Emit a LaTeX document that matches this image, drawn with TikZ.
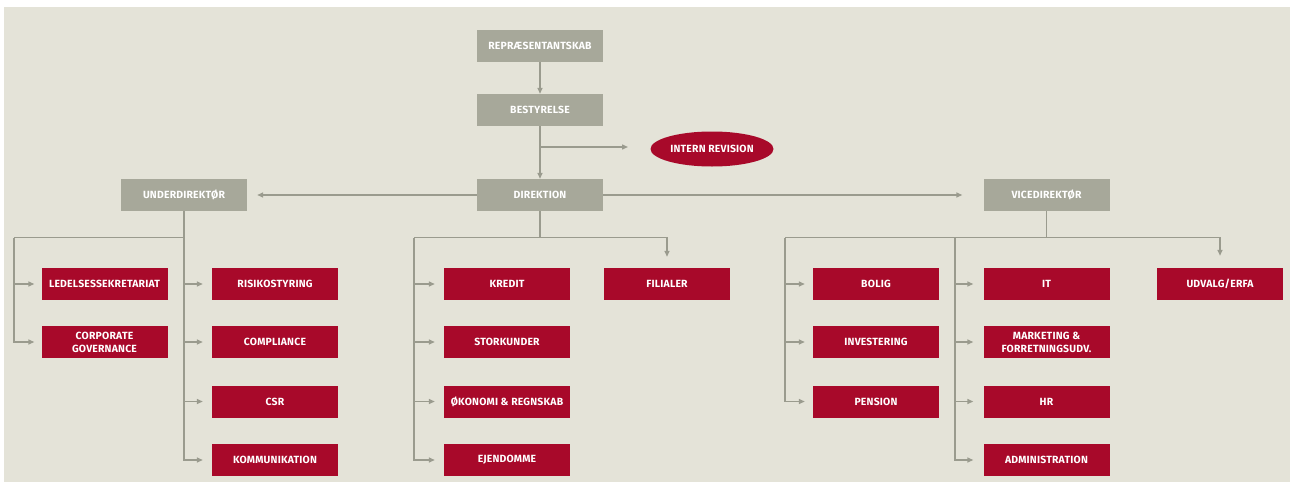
\documentclass[tikz,border=0pt]{standalone}
\usepackage{fontspec}
\setsansfont{Fira Sans}
\usetikzlibrary{arrows.meta,shapes.geometric}
\definecolor{paper}{HTML}{E4E3D8}
\definecolor{boardgrey}{HTML}{A7A89A}
\definecolor{unitred}{HTML}{A8092A}
\definecolor{wire}{HTML}{9A9B8E}
\begin{document}
\begin{tikzpicture}[x=1pt,y=-1pt,
  label/.style={font=\sffamily\bfseries\fontsize{10.4}{13}\selectfont\addfontfeatures{LetterSpace=2}, text=white, align=center},
  board/.style={label, fill=boardgrey, minimum width=126pt, minimum height=32pt, inner sep=0pt},
  unit/.style={label, fill=unitred, minimum width=126pt, minimum height=32pt, inner sep=0pt},
  oval/.style={label, ellipse, fill=unitred, minimum width=123pt, minimum height=35pt, inner sep=0pt},
  link/.style={draw=wire, line width=1.4pt},
  feed/.style={link, -{Triangle[length=6pt,width=5pt]}}
]
\useasboundingbox (0,0) rectangle (1290,482);
\fill[white] (0,0) rectangle (1290,482);
\fill[paper] (4,7) rectangle (1290,482);

% top of the organisation
\node[board] (repr) at (540,46) {REPRÆSENTANTSKAB};
\node[board] (best) at (540,110) {BESTYRELSE};
\node[oval]  (intern) at (712,149) {INTERN REVISION};
\node[board] (dir) at (540,195) {DIREKTION};
\node[board] (under) at (184,195) {UNDERDIREKTØR};
\node[board] (vice) at (1046.5,195) {VICEDIREKTØR};

% units under the underdirektør
\node[unit] (ledel) at (104.5,284) {LEDELSESSEKRETARIAT};
\node[unit] (corp)  at (104.5,342) {CORPORATE\\GOVERNANCE};
\node[unit] (risk)  at (275,284) {RISIKOSTYRING};
\node[unit] (compl) at (275,342) {COMPLIANCE};
\node[unit] (csr)   at (275,401.5) {CSR};
\node[unit] (komm)  at (275,460) {KOMMUNIKATION};

% units under the direktion
\node[unit] (kredit) at (507,284) {KREDIT};
\node[unit] (stork)  at (507,342) {STORKUNDER};
\node[unit] (okon)   at (507,401.5) {ØKONOMI \& REGNSKAB};
\node[unit] (ejend)  at (507,460) {EJENDOMME};
\node[unit] (filial) at (667,284) {FILIALER};

% units under the vicedirektør
\node[unit] (bolig)   at (876,284) {BOLIG};
\node[unit] (invest)  at (876,342) {INVESTERING};
\node[unit] (pension) at (876,401.5) {PENSION};
\node[unit] (it)      at (1046.5,284) {IT};
\node[unit] (mark)    at (1046.5,342) {MARKETING \&\\FORRETNINGSUDV.};
\node[unit] (hr)      at (1046.5,401.5) {HR};
\node[unit] (admin)   at (1046.5,460) {ADMINISTRATION};
\node[unit] (udv)     at (1220,284) {UDVALG/ERFA};

% main chain
\draw[feed] (repr) -- (best);
\draw[feed] (best) -- (dir);
\coordinate (rev) at (628,147);
\draw[feed] (best.south |- rev) -- (rev);
\draw[feed] (dir.west) -- ([xshift=10pt]under.east);
\draw[feed] (dir.east) -- ([xshift=-21pt]vice.west);

% underdirektør tree
\coordinate (ul) at (14,237.7);
\draw[link] (under.south |- ul) -- (ul);
\draw[feed] (ul) |- ([xshift=-7pt]corp.west);
\draw[feed] (ul |- ledel) -- ([xshift=-7pt]ledel.west);
\draw[feed] (under.south) |- ([xshift=-9pt]komm.west);
\draw[feed] (under.south |- risk) -- ([xshift=-9pt]risk.west);
\draw[feed] (under.south |- compl) -- ([xshift=-9pt]compl.west);
\draw[feed] (under.south |- csr) -- ([xshift=-9pt]csr.west);

% direktion tree
\coordinate (dl) at (414,237.5);
\draw[link] (dir.south) -- (dir.south |- dl);
\draw[feed] (dl) -| ([yshift=11pt]filial.north);
\draw[feed] (dl) |- ([xshift=-9pt]ejend.west);
\draw[feed] (dl |- kredit) -- ([xshift=-9pt]kredit.west);
\draw[feed] (dl |- stork) -- ([xshift=-9pt]stork.west);
\draw[feed] (dl |- okon) -- ([xshift=-9pt]okon.west);

% vicedirektør tree
\coordinate (vl) at (785,237.7);
\coordinate (vm) at (955,237.7);
\draw[link] (vice.south) -- (vice.south |- vl);
\draw[feed] (vl) -| ([yshift=12pt]udv.north);
\draw[feed] (vl) |- ([xshift=-8pt]pension.west);
\draw[feed] (vl |- bolig) -- ([xshift=-8pt]bolig.west);
\draw[feed] (vl |- invest) -- ([xshift=-8pt]invest.west);
\draw[feed] (vm) |- ([xshift=-10pt]admin.west);
\draw[feed] (vm |- it) -- ([xshift=-10pt]it.west);
\draw[feed] (vm |- mark) -- ([xshift=-10pt]mark.west);
\draw[feed] (vm |- hr) -- ([xshift=-10pt]hr.west);
\end{tikzpicture}
\end{document}
